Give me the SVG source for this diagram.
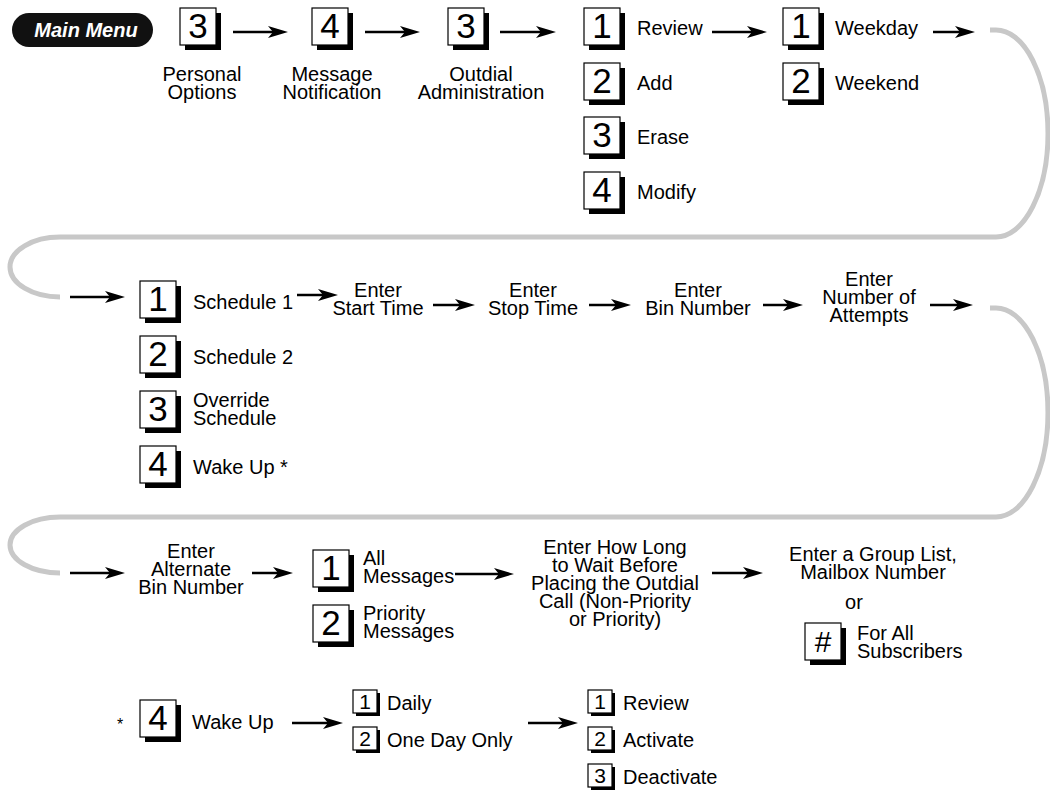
<svg xmlns="http://www.w3.org/2000/svg" width="1050" height="790" viewBox="0 0 1050 790">
<defs>
<marker id="ah" markerUnits="userSpaceOnUse" markerWidth="22" markerHeight="14" refX="10" refY="7" orient="auto"><path d="M0,1 L20,7 L0,13 L5,7 Z" fill="#000"/></marker>
</defs>
<style>
text{font-family:"Liberation Sans",Arial,Helvetica,sans-serif;fill:#000}
.lb{font-size:20px}
.c{text-anchor:middle}
.dg{font-size:35px;text-anchor:middle}
.ds{font-size:21px;text-anchor:middle}
.bx{fill:#fff;stroke:#000;stroke-width:1.2}
.sh{fill:#000}
.ar{stroke:#000;stroke-width:2.5;fill:none;marker-end:url(#ah)}
.gr{stroke:#c8c8c8;stroke-width:5;fill:none}
</style>
<rect width="1050" height="790" fill="#fff"/>
<g id="connectors">
<path class="gr" d="M990 30 H996 A52 103.5 0 0 1 996 237 H60 A50 30 0 0 0 60 297"/>
<path class="gr" d="M990 308 H996 A52 104.5 0 0 1 996 517 H60 A50 28 0 0 0 60 573"/>
<line class="ar" x1="233" y1="32" x2="278" y2="32"/>
<line class="ar" x1="365" y1="32" x2="410" y2="32"/>
<line class="ar" x1="500" y1="32" x2="546" y2="32"/>
<line class="ar" x1="712" y1="32" x2="757" y2="32"/>
<line class="ar" x1="933" y1="32" x2="965" y2="32"/>
<line class="ar" x1="70" y1="297" x2="115" y2="297"/>
<line class="ar" x1="297" y1="295" x2="328" y2="295"/>
<line class="ar" x1="433" y1="305" x2="465" y2="305"/>
<line class="ar" x1="589" y1="305" x2="621" y2="305"/>
<line class="ar" x1="763" y1="305" x2="793" y2="305"/>
<line class="ar" x1="930" y1="305" x2="963" y2="305"/>
<line class="ar" x1="70" y1="573" x2="115" y2="573"/>
<line class="ar" x1="252" y1="573" x2="283" y2="573"/>
<line class="ar" x1="455" y1="574" x2="504" y2="574"/>
<line class="ar" x1="712" y1="573" x2="753" y2="573"/>
<line class="ar" x1="292" y1="723" x2="333" y2="723"/>
<line class="ar" x1="528" y1="723" x2="568" y2="723"/>
</g>
<g id="main-menu">
<rect x="12" y="13" width="141" height="34" rx="17" fill="#111"/>
<text x="86" y="37" style="font-size:20px;font-weight:bold;font-style:italic;text-anchor:middle;fill:#fff">Main Menu</text>
</g>
<g id="personal-options">
<rect class="sh" x="185" y="13" width="36" height="37"/><rect class="bx" x="180" y="8" width="36" height="37"/><text class="dg" x="198" y="38">3</text>
<text class="lb c" x="202" y="81">Personal<tspan x="202" dy="18">Options</tspan></text>
</g>
<g id="message-notification">
<rect class="sh" x="317" y="13" width="36" height="37"/><rect class="bx" x="312" y="8" width="36" height="37"/><text class="dg" x="330" y="38">4</text>
<text class="lb c" x="332" y="81">Message<tspan x="332" dy="18">Notification</tspan></text>
</g>
<g id="outdial-administration">
<rect class="sh" x="453" y="13" width="36" height="37"/><rect class="bx" x="448" y="8" width="36" height="37"/><text class="dg" x="466" y="38">3</text>
<text class="lb c" x="481" y="81">Outdial<tspan x="481" dy="18">Administration</tspan></text>
</g>
<g id="review">
<rect class="sh" x="589" y="13" width="36" height="37"/><rect class="bx" x="584" y="8" width="36" height="37"/><text class="dg" x="602" y="38">1</text>
<text class="lb" x="637" y="35">Review</text>
</g>
<g id="add">
<rect class="sh" x="589" y="68" width="36" height="37"/><rect class="bx" x="584" y="63" width="36" height="37"/><text class="dg" x="602" y="93">2</text>
<text class="lb" x="637" y="90">Add</text>
</g>
<g id="erase">
<rect class="sh" x="589" y="122" width="36" height="37"/><rect class="bx" x="584" y="117" width="36" height="37"/><text class="dg" x="602" y="147">3</text>
<text class="lb" x="637" y="144">Erase</text>
</g>
<g id="modify">
<rect class="sh" x="589" y="177" width="36" height="37"/><rect class="bx" x="584" y="172" width="36" height="37"/><text class="dg" x="602" y="202">4</text>
<text class="lb" x="637" y="199">Modify</text>
</g>
<g id="weekday">
<rect class="sh" x="788" y="13" width="36" height="37"/><rect class="bx" x="783" y="8" width="36" height="37"/><text class="dg" x="801" y="38">1</text>
<text class="lb" x="835" y="35">Weekday</text>
</g>
<g id="weekend">
<rect class="sh" x="788" y="68" width="36" height="37"/><rect class="bx" x="783" y="63" width="36" height="37"/><text class="dg" x="801" y="93">2</text>
<text class="lb" x="835" y="90">Weekend</text>
</g>
<g id="schedule-1">
<rect class="sh" x="145" y="286" width="36" height="37"/><rect class="bx" x="140" y="281" width="36" height="37"/><text class="dg" x="158" y="311">1</text>
<text class="lb" x="193" y="309">Schedule 1</text>
</g>
<g id="schedule-2">
<rect class="sh" x="145" y="341" width="36" height="37"/><rect class="bx" x="140" y="336" width="36" height="37"/><text class="dg" x="158" y="366">2</text>
<text class="lb" x="193" y="364">Schedule 2</text>
</g>
<g id="override-schedule">
<rect class="sh" x="145" y="396" width="36" height="37"/><rect class="bx" x="140" y="391" width="36" height="37"/><text class="dg" x="158" y="421">3</text>
<text class="lb" x="193" y="407">Override<tspan x="193" dy="18">Schedule</tspan></text>
</g>
<g id="wake-up">
<rect class="sh" x="145" y="451" width="36" height="37"/><rect class="bx" x="140" y="446" width="36" height="37"/><text class="dg" x="158" y="476">4</text>
<text class="lb" x="193" y="474">Wake Up *</text>
</g>
<g id="start-time"><text class="lb c" x="378" y="297">Enter<tspan x="378" dy="18">Start Time</tspan></text></g>
<g id="stop-time"><text class="lb c" x="533" y="297">Enter<tspan x="533" dy="18">Stop Time</tspan></text></g>
<g id="bin-number"><text class="lb c" x="698" y="297">Enter<tspan x="698" dy="18">Bin Number</tspan></text></g>
<g id="attempts"><text class="lb c" x="869" y="286">Enter<tspan x="869" dy="18">Number of</tspan><tspan x="869" dy="18">Attempts</tspan></text></g>
<g id="alternate-bin"><text class="lb c" x="191" y="558">Enter<tspan x="191" dy="18">Alternate</tspan><tspan x="191" dy="18">Bin Number</tspan></text></g>
<g id="all-messages">
<rect class="sh" x="318" y="555" width="36" height="37"/><rect class="bx" x="313" y="550" width="36" height="37"/><text class="dg" x="331" y="580">1</text>
<text class="lb" x="363" y="565">All<tspan x="363" dy="18">Messages</tspan></text>
</g>
<g id="priority-messages">
<rect class="sh" x="318" y="610" width="36" height="37"/><rect class="bx" x="313" y="605" width="36" height="37"/><text class="dg" x="331" y="635">2</text>
<text class="lb" x="363" y="620">Priority<tspan x="363" dy="18">Messages</tspan></text>
</g>
<g id="wait-time"><text class="lb c" x="615" y="554">Enter How Long<tspan x="615" dy="18">to Wait Before</tspan><tspan x="615" dy="18">Placing the Outdial</tspan><tspan x="615" dy="18">Call (Non-Priority</tspan><tspan x="615" dy="18">or Priority)</tspan></text></g>
<g id="group-list">
<text class="lb c" x="873" y="561">Enter a Group List,<tspan x="873" dy="18">Mailbox Number</tspan></text>
<text class="lb c" x="854" y="609">or</text>
</g>
<g id="all-subscribers">
<rect class="sh" x="810" y="628" width="36" height="37"/><rect class="bx" x="805" y="623" width="36" height="37"/><text class="dg" x="823" y="652" style="font-size:30px">#</text>
<text class="lb" x="857" y="640">For All<tspan x="857" dy="18">Subscribers</tspan></text>
</g>
<g id="wake-up-detail">
<text class="lb c" x="120" y="730" style="font-size:16px">*</text>
<rect class="sh" x="145" y="705" width="36" height="37"/><rect class="bx" x="140" y="700" width="36" height="37"/><text class="dg" x="158" y="730">4</text>
<text class="lb" x="192" y="729">Wake Up</text>
</g>
<g id="daily">
<rect class="sh" x="356" y="693" width="24" height="23"/><rect class="bx" x="353" y="690" width="24" height="23"/><text class="ds" x="365" y="709">1</text>
<text class="lb" x="387" y="710">Daily</text>
</g>
<g id="one-day-only">
<rect class="sh" x="356" y="730" width="24" height="23"/><rect class="bx" x="353" y="727" width="24" height="23"/><text class="ds" x="365" y="746">2</text>
<text class="lb" x="387" y="747">One Day Only</text>
</g>
<g id="wake-review">
<rect class="sh" x="591" y="693" width="24" height="23"/><rect class="bx" x="588" y="690" width="24" height="23"/><text class="ds" x="600" y="709">1</text>
<text class="lb" x="623" y="710">Review</text>
</g>
<g id="activate">
<rect class="sh" x="591" y="730" width="24" height="23"/><rect class="bx" x="588" y="727" width="24" height="23"/><text class="ds" x="600" y="746">2</text>
<text class="lb" x="623" y="747">Activate</text>
</g>
<g id="deactivate">
<rect class="sh" x="591" y="767" width="24" height="23"/><rect class="bx" x="588" y="764" width="24" height="23"/><text class="ds" x="600" y="783">3</text>
<text class="lb" x="623" y="784">Deactivate</text>
</g>
</svg>
